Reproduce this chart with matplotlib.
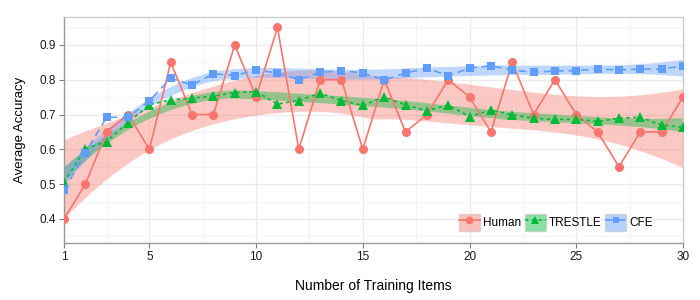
import numpy as np
import matplotlib
matplotlib.use("Agg")
import matplotlib.pyplot as plt
from matplotlib.patches import Patch
from matplotlib.lines import Line2D
from matplotlib.ticker import FixedLocator

plt.rcParams['font.family'] = ['Liberation Sans', 'DejaVu Sans']

items = np.arange(1, 31)
human = [0.40, 0.50, 0.65, 0.70, 0.60, 0.85, 0.70, 0.70, 0.90, 0.75,
         0.95, 0.60, 0.80, 0.80, 0.60, 0.80, 0.65, 0.70, 0.80, 0.75,
         0.65, 0.85, 0.70, 0.80, 0.70, 0.65, 0.55, 0.65, 0.65, 0.75]
trestle = [0.505, 0.602, 0.622, 0.677, 0.728, 0.742, 0.747, 0.753, 0.763, 0.766,
           0.730, 0.740, 0.761, 0.740, 0.726, 0.751, 0.727, 0.711, 0.727, 0.694,
           0.713, 0.699, 0.689, 0.686, 0.686, 0.680, 0.689, 0.692, 0.670, 0.663]
cfe = [0.483, 0.590, 0.692, 0.692, 0.739, 0.804, 0.785, 0.817, 0.812, 0.828,
       0.819, 0.800, 0.821, 0.826, 0.819, 0.799, 0.819, 0.833, 0.811, 0.833,
       0.840, 0.828, 0.821, 0.825, 0.826, 0.831, 0.828, 0.830, 0.830, 0.840]

names = ["Human", "TRESTLE", "CFE"]
colors = ["#F8766D", "#00BA38", "#619CFF"]
markers = ["o", "^", "s"]
msizes = [6.5, 7, 6]
dashes = [None, (2, 2), (4.5, 3)]
spans = [1.0, 0.6, 0.6]


def loess_band(x, y, grid, span):
    # local quadratic fit with tricube weights, plus 95% band like geom_smooth
    x = np.asarray(x, float)
    y = np.asarray(y, float)
    n = len(x)
    q = min(int(np.floor(n * span)), n)

    def row(x0):
        d = np.abs(x - x0)
        h = np.sort(d)[q - 1] * max(span, 1.0)
        w = np.clip(1 - (d / h) ** 3, 0, None) ** 3
        X = np.column_stack([np.ones(n), x - x0, (x - x0) ** 2])
        XtW = X.T * w
        return np.linalg.solve(XtW @ X, XtW)[0]

    L = np.array([row(v) for v in x])
    M = np.eye(n) - L
    MM = M.T @ M
    d1 = np.trace(MM)
    d2 = np.trace(MM @ MM)
    resid = y - L @ y
    sigma = np.sqrt(np.sum(resid ** 2) / d1)
    df = d1 ** 2 / d2
    z = 1.959964
    t = z + (z ** 3 + z) / (4 * df) + (5 * z ** 5 + 16 * z ** 3 + 3 * z) / (96 * df ** 2)
    G = np.array([row(v) for v in grid])
    fit = G @ y
    se = sigma * np.sqrt(np.sum(G ** 2, axis=1))
    return fit - t * se, fit + t * se


fig = plt.figure(figsize=(7, 3), dpi=100)
ax = fig.add_axes([64 / 700, 1 - 243 / 300, 619 / 700, 226 / 300])

grid = np.linspace(1, 30, 80)
for vals, c, sp in zip([human, trestle, cfe], colors, spans):
    lo, hi = loess_band(items, vals, grid, sp)
    ax.fill_between(grid, lo, hi, color=c, alpha=0.4, lw=0, zorder=2)

for vals, c, m, ms, ds in zip([human, trestle, cfe], colors, markers, msizes, dashes):
    ln, = ax.plot(items, vals, color=c, marker=m, ms=ms, lw=1.2, mew=0, zorder=3)
    if ds:
        ln.set_dashes(ds)

ax.set_xlim(1, 30)
ax.set_ylim(0.331, 0.980)
ax.set_xticks([1, 5, 10, 15, 20, 25, 30])
ax.xaxis.set_minor_locator(FixedLocator([3, 7.5, 12.5, 17.5, 22.5, 27.5]))
ax.yaxis.set_major_locator(FixedLocator([0.4, 0.5, 0.6, 0.7, 0.8, 0.9]))
ax.yaxis.set_minor_locator(FixedLocator([0.35, 0.45, 0.55, 0.65, 0.75, 0.85, 0.95]))
ax.set_yticklabels(["0.4", "0.5", "0.6", "0.7", "0.8", "0.9"])
ax.grid(which='major', color='#EBEBEB', lw=0.9, zorder=0)
ax.grid(which='minor', color='#F4F4F4', lw=0.6, zorder=0)
ax.set_axisbelow(True)
ax.tick_params(which='major', direction='out', length=3.5, width=0.8,
               color='#7F7F7F', labelsize=8.5, labelcolor='#1a1a1a', pad=2)
ax.tick_params(which='minor', length=0)
for side in ['left', 'bottom']:
    ax.spines[side].set_color('#999999')
for side in ['top', 'right']:
    ax.spines[side].set_color('#CCCCCC')
for s in ax.spines.values():
    s.set_linewidth(1)

ax.set_xlabel("Number of Training Items", fontsize=10, labelpad=12)
ax.set_ylabel("Average Accuracy", fontsize=9.5, labelpad=10)

handles = []
for c, m, ms, ds in zip(colors, markers, msizes, dashes):
    p = Patch(facecolor=c, alpha=0.45, edgecolor='#BBBBBB', lw=1)
    l = Line2D([], [], color=c, marker=m, ms=ms - 1, lw=1.2, mew=0)
    if ds:
        l.set_dashes(ds)
    handles.append((p, l))
ax.legend(handles, names, loc='lower right', bbox_to_anchor=(0.9515, 0.053),
          ncol=3, frameon=False, fontsize=8.5, handlelength=1.8, handleheight=1.8,
          handletextpad=0.25, columnspacing=0.3, borderpad=0, borderaxespad=0)

fig.savefig("out.png", dpi=100)
